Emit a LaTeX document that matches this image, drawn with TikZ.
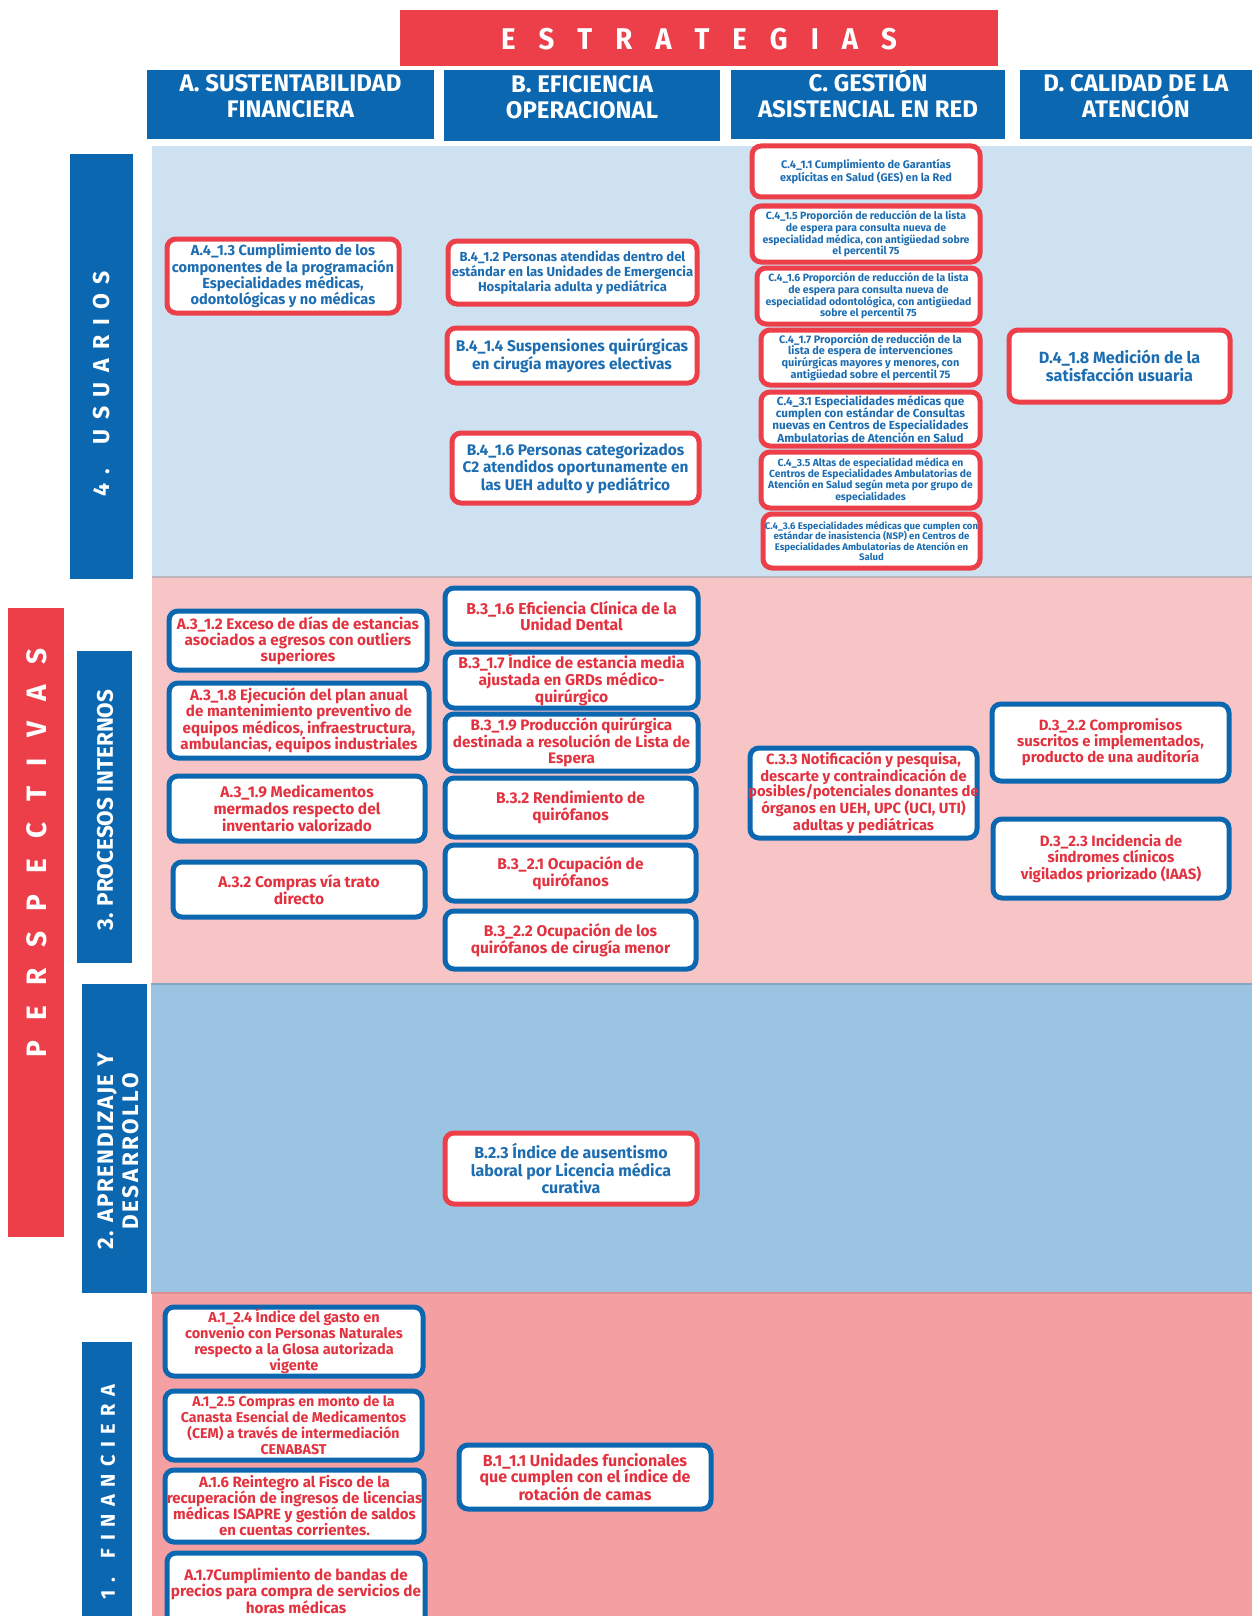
\documentclass[tikz,border=0pt]{standalone}
\usepackage{fontspec}
\setmainfont{Fira Sans}
\newfontfamily\condf[FakeStretch=0.92]{Fira Sans}
\usetikzlibrary{fit}
\definecolor{cred}{HTML}{EC3F49}
\definecolor{cblue}{HTML}{0C67B1}
\definecolor{tblue}{HTML}{1C6DB2}
\definecolor{tred}{HTML}{E3323F}
\definecolor{bandU}{HTML}{CDE1F0}
\definecolor{bandP}{HTML}{F8C5C7}
\definecolor{bandA}{HTML}{9BC3E2}
\definecolor{bandF}{HTML}{F49FA2}
\makeatletter
\newcommand\spreadtxt[2]{\def\spr@k{\kern#1}\@tfor\spr@c:=#2\do{\spr@c\spr@k}\unkern}
\makeatother
% box macro: style, name, corner1, corner2, size, skip, text
\newcommand\kb[7]{%
  \node[#1, fit={#3 #4}] (#2) {};
  \node[#1txt, font=\bfseries\fontsize{#5}{#6}\selectfont] (#2-t) at (#2.center) {#7};}
\begin{document}
\begin{tikzpicture}[x=1pt,y=-1pt,
  fsz/.style 2 args={font=\bfseries\fontsize{#1}{#2}\selectfont},
  csz/.style 2 args={font=\condf\bfseries\fontsize{#1}{#2}\selectfont},
  kpi/.style={draw, fill=white, line width=5pt, rounded corners=9pt, inner sep=0pt},
  redk/.style={kpi, draw=cred},
  bluek/.style={kpi, draw=cblue},
  redktxt/.style={text=tblue, align=center, inner sep=0pt},
  bluektxt/.style={text=tred, align=center, inner sep=0pt},
  hdr/.style={fill=cblue, text=white, inner sep=0pt, align=center, fsz={24}{25.5}},
  vbar/.style={fill=cblue, inner sep=0pt},
  vtxt/.style={rotate=90, text=white, align=center, inner sep=0pt}
]
\useasboundingbox (0,0) rectangle (1252,1616);
\fill[white] (0,0) rectangle (1252,1616);

% bands
\fill[bandU] (152,146) rectangle (1252,577);
\fill[bandP] (152,577) rectangle (1252,984);
\fill[bandA] (151,984) rectangle (1252,1293);
\fill[bandF] (152,1293) rectangle (1252,1616);
\draw[line width=1.5pt, color=bandU!60!bandP!85!black] (152,577) -- (1252,577);
\draw[line width=1.5pt, color=bandA!85!black] (151,984) -- (1252,984);
\draw[line width=1.5pt, color=bandF!90!black] (151,1293) -- (1252,1293);

% title
\node[fill=cred, inner sep=0pt, fit={(400,10) (998,66)}] (tbox) {};
\node[text=white, csz={30}{32}] (ttxt) at ([yshift=-1pt]tbox.center) {\spreadtxt{23pt}{ESTRATEGIAS}};

% column headers
\node[hdr, fit={(147,70) (434,139)}] (hA) {A. SUSTENTABILIDAD\\FINANCIERA};
\node[hdr, fit={(444,70) (720,141)}] (hB) {B. EFICIENCIA\\OPERACIONAL};
\node[hdr, fit={(731,70) (1005,139)}] (hC) {C. GESTIÓN\\ASISTENCIAL EN RED};
\node[hdr, fit={(1020,70) (1252,139)}] (hD) {D. CALIDAD DE LA\\ATENCIÓN};

% left bars
\node[vbar, fit={(70,154) (133,579)}] (bar4) {};
\node[vtxt, fsz={23}{24}] (t4) at (102,384) {\spreadtxt{9.5pt}{4.~USUARIOS}};
\node[fill=cred, inner sep=0pt, fit={(8,608) (64,1237)}] (barP) {};
\node[vtxt, fsz={28}{30}] (tP) at (37,853) {\spreadtxt{20.5pt}{PERSPECTIVAS}};
\node[vbar, fit={(77,651) (132,963)}] (bar3) {};
\node[vtxt, fsz={22.5}{24}] (t3) at (105,810) {3. PROCESOS INTERNOS};
\node[vbar, fit={(82,984) (147,1293)}] (bar2) {};
\node[vtxt, fsz={22.5}{25}] (t2) at (118,1151) {\spreadtxt{1.5pt}{2.~APRENDIZAJE~Y}\\\spreadtxt{2.5pt}{DESARROLLO}};
\node[vbar, fit={(82,1342) (132,1630)}] (bar1) {};
\node[vtxt, fsz={20}{22}] (t1) at (108,1492) {\spreadtxt{7.5pt}{1.~FINANCIERA}};

% ---- 4. USUARIOS ----
\kb{redk}{a413}{(167,239)}{(399,313)}{14.6}{16.3}{A.4\_1.3 Cumplimiento de los\\componentes de la programación\\Especialidades médicas,\\odontológicas y no médicas}
\kb{redk}{b412}{(448,241)}{(697,304)}{13.1}{14.8}{B.4\_1.2 Personas atendidas dentro del\\estándar en las Unidades de Emergencia\\Hospitalaria adulta y pediátrica}
\kb{redk}{b414}{(447,328)}{(697,383)}{15.5}{17.5}{B.4\_1.4 Suspensiones quirúrgicas\\en cirugía mayores electivas}
\kb{redk}{b416}{(452,433)}{(699,503)}{15.4}{17.5}{B.4\_1.6 Personas categorizados\\C2 atendidos oportunamente en\\las UEH adulto y pediátrico}
\kb{redk}{c411}{(752,146)}{(980,197)}{11}{12.5}{C.4\_1.1 Cumplimiento de Garantías\\explícitas en Salud (GES) en la Red}
\kb{redk}{c415}{(752,206)}{(980,262)}{10.5}{11.7}{C.4\_1.5 Proporción de reducción de la lista\\de espera para consulta nueva de\\especialidad médica, con antigüedad sobre\\el percentil 75}
\kb{redk}{c416}{(757,268)}{(980,324)}{10.5}{11.7}{C.4\_1.6 Proporción de reducción de la lista\\de espera para consulta nueva de\\especialidad odontológica, con antigüedad\\sobre el percentil 75}
\kb{redk}{c417}{(761,330)}{(980,385)}{10.9}{11.8}{C.4\_1.7 Proporción de reducción de la\\lista de espera de intervenciones\\quirúrgicas mayores y menores, con\\antigüedad sobre el percentil 75}
\kb{redk}{c431}{(761,392)}{(980,446)}{11.7}{12.4}{C.4\_3.1 Especialidades médicas que\\cumplen con estándar de Consultas\\nuevas en Centros de Especialidades\\Ambulatorias de Atención en Salud}
\kb{redk}{c435}{(761,452)}{(980,508)}{10.3}{11.3}{C.4\_3.5 Altas de especialidad médica en\\Centros de Especialidades Ambulatorias de\\Atención en Salud según meta por grupo de\\especialidades}
\kb{redk}{c436}{(763,514)}{(980,568)}{9.6}{10.6}{C.4\_3.6 Especialidades médicas que cumplen con\\estándar de inasistencia (NSP) en Centros de\\Especialidades Ambulatorias de Atención en\\Salud}
\kb{redk}{d418}{(1009,330)}{(1230,402)}{16.2}{18}{D.4\_1.8 Medición de la\\satisfacción usuaria}

% ---- 3. PROCESOS INTERNOS ----
\kb{bluek}{a312}{(169,611)}{(427,670)}{15.3}{16}{A.3\_1.2 Exceso de días de estancias\\asociados a egresos con outliers\\superiores}
\kb{bluek}{a318}{(169,683)}{(429,758)}{15.2}{16}{A.3\_1.8 Ejecución del plan anual\\de mantenimiento preventivo de\\equipos médicos, infraestructura,\\ambulancias, equipos industriales}
\kb{bluek}{a319}{(169,776)}{(425,841)}{15.5}{16.8}{A.3\_1.9 Medicamentos\\mermados respecto del\\inventario valorizado}
\kb{bluek}{a32}{(173,862)}{(425,917)}{15.5}{16.8}{A.3.2 Compras vía trato\\directo}
\kb{bluek}{b316}{(445,588)}{(698,644)}{15.8}{16.5}{B.3\_1.6 Eficiencia Clínica de la\\Unidad Dental}
\kb{bluek}{b317}{(445,652)}{(698,708)}{15.6}{16.2}{B.3\_1.7 Índice de estancia media\\ajustada en GRDs médico-\\quirúrgico}
\kb{bluek}{b319}{(445,714)}{(698,771)}{15.2}{16.2}{B.3\_1.9 Producción quirúrgica\\destinada a resolución de Lista de\\Espera}
\kb{bluek}{b32}{(445,778)}{(696,837)}{15.5}{16.8}{B.3.2 Rendimiento de\\quirófanos}
\kb{bluek}{b321}{(445,845)}{(696,901)}{15.5}{16.8}{B.3\_2.1 Ocupación de\\quirófanos}
\kb{bluek}{b322}{(445,911)}{(696,969)}{15.5}{16.8}{B.3\_2.2 Ocupación de los\\quirófanos de cirugía menor}
\kb{bluek}{c33}{(750,748)}{(977,838)}{14.8}{15.6}{C.3.3 Notificación y pesquisa,\\descarte y contraindicación de\\posibles/potenciales donantes de\\órganos en UEH, UPC (UCI, UTI)\\adultas y pediátricas}
\kb{bluek}{d322}{(992,704)}{(1229,781)}{14.9}{16}{D.3\_2.2 Compromisos\\suscritos e implementados,\\producto de una auditoría}
\kb{bluek}{d323}{(993,819)}{(1229,898)}{15}{16.2}{D.3\_2.3 Incidencia de\\síndromes clínicos\\vigilados priorizado (IAAS)}

% ---- 2. APRENDIZAJE ----
\kb{redk}{b23}{(445,1133)}{(697,1204)}{16}{17.3}{B.2.3 Índice de ausentismo\\laboral por Licencia médica\\curativa}

% ---- 1. FINANCIERA ----
\kb{bluek}{a124}{(165,1307)}{(423,1376)}{14.5}{16}{A.1\_2.4 Índice del gasto en\\convenio con Personas Naturales\\respecto a la Glosa autorizada\\vigente}
\kb{bluek}{a125}{(165,1391)}{(422,1460)}{14.2}{16}{A.1\_2.5 Compras en monto de la\\Canasta Esencial de Medicamentos\\(CEM) a través de intermediación\\CENABAST}
\kb{bluek}{a16}{(165,1470)}{(424,1542)}{15}{16}{A.1.6 Reintegro al Fisco de la\\recuperación de ingresos de licencias\\médicas ISAPRE y gestión de saldos\\en cuentas corrientes.}
\kb{bluek}{a17}{(167,1553)}{(425,1628)}{15.3}{16.5}{A.1.7Cumplimiento de bandas de\\precios para compra de servicios de\\horas médicas}
\kb{bluek}{b111}{(459,1445)}{(711,1509)}{16}{16.8}{B.1\_1.1 Unidades funcionales\\que cumplen con el índice de\\rotación de camas}
\end{tikzpicture}
\end{document}
